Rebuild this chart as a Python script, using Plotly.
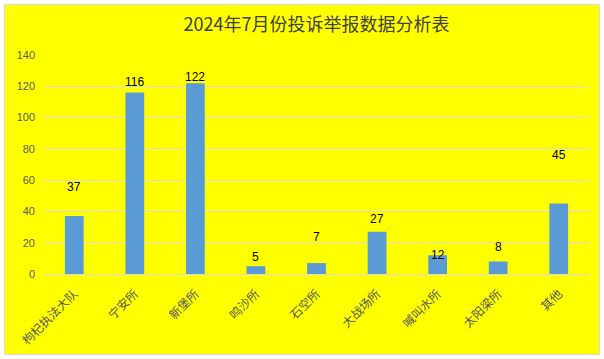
import plotly.graph_objects as go

categories = ["枸杞执法大队", "宁安所", "新堡所", "鸣沙所", "石空所", "大战场所", "喊叫水所", "太阳梁所", "其他"]
values = [37, 116, 122, 5, 7, 27, 12, 8, 45]
label_shift_px = [29, 11, 6, 9, 26, 13, 0, 14, 49]
y_ticks = [0, 20, 40, 60, 80, 100, 120, 140]

W, H = 604, 359
ml, mr, mt, mb = 44, 15, 55, 85
pw, ph = W - ml - mr, H - mt - mb

fig = go.Figure()
fig.add_trace(go.Bar(
    x=categories, y=values, marker=dict(color="#5B9BD5", line=dict(width=0)),
    width=0.31, hoverinfo="x+y",
))

annotations = []
for c, v, s in zip(categories, values, label_shift_px):
    annotations.append(dict(
        x=c, y=v, xref="x", yref="y", text=str(v), showarrow=False,
        yanchor="middle", yshift=s, font=dict(size=12, color="#000000", family="Liberation Sans, Arial, sans-serif"),
    ))

def px_x(p):
    return (p - ml) / pw

def px_y(p):
    return (H - mb - p) / ph

fig.add_shape(type="rect", xref="paper", yref="paper",
              x0=px_x(4.5), x1=px_x(599.5), y0=px_y(354.5), y1=px_y(4.5),
              fillcolor="#FFFF00", line=dict(color="#D9D9D9", width=1), layer="below")

fig.update_layout(
    width=W, height=H,
    margin=dict(l=ml, r=mr, t=mt, b=mb, autoexpand=False),
    paper_bgcolor="#FFFFFF", plot_bgcolor="rgba(0,0,0,0)",
    title=dict(text="2024年7月份投诉举报数据分析表", x=0.5, xref="paper", y=1 - 25 / H, yanchor="middle",
               font=dict(size=18, color="#404040", family="Noto Sans CJK SC, sans-serif")),
    showlegend=False,
    annotations=annotations,
    font=dict(family="Noto Sans CJK SC, sans-serif", color="#595959"),
)
fig.update_xaxes(
    type="category", tickangle=-45, showgrid=False, showline=True, linecolor="#D9D9D9", linewidth=1,
    tickfont=dict(size=12, color="#595959", family="Noto Sans CJK SC, sans-serif"), ticks="",
    ticklabelstandoff=7, automargin=False,
)
fig.update_yaxes(
    range=[0, 140], tickvals=y_ticks, showgrid=True, gridcolor="#D9D9D9", gridwidth=1,
    zeroline=False, showline=False, ticks="", ticklabelstandoff=8, automargin=False,
    tickfont=dict(size=11, color="#595959", family="Liberation Sans, Arial, sans-serif"),
)

fig.write_html("out.html", config={"displayModeBar": False},
               post_script="document.body.style.margin='0';document.body.style.overflow='hidden';")
